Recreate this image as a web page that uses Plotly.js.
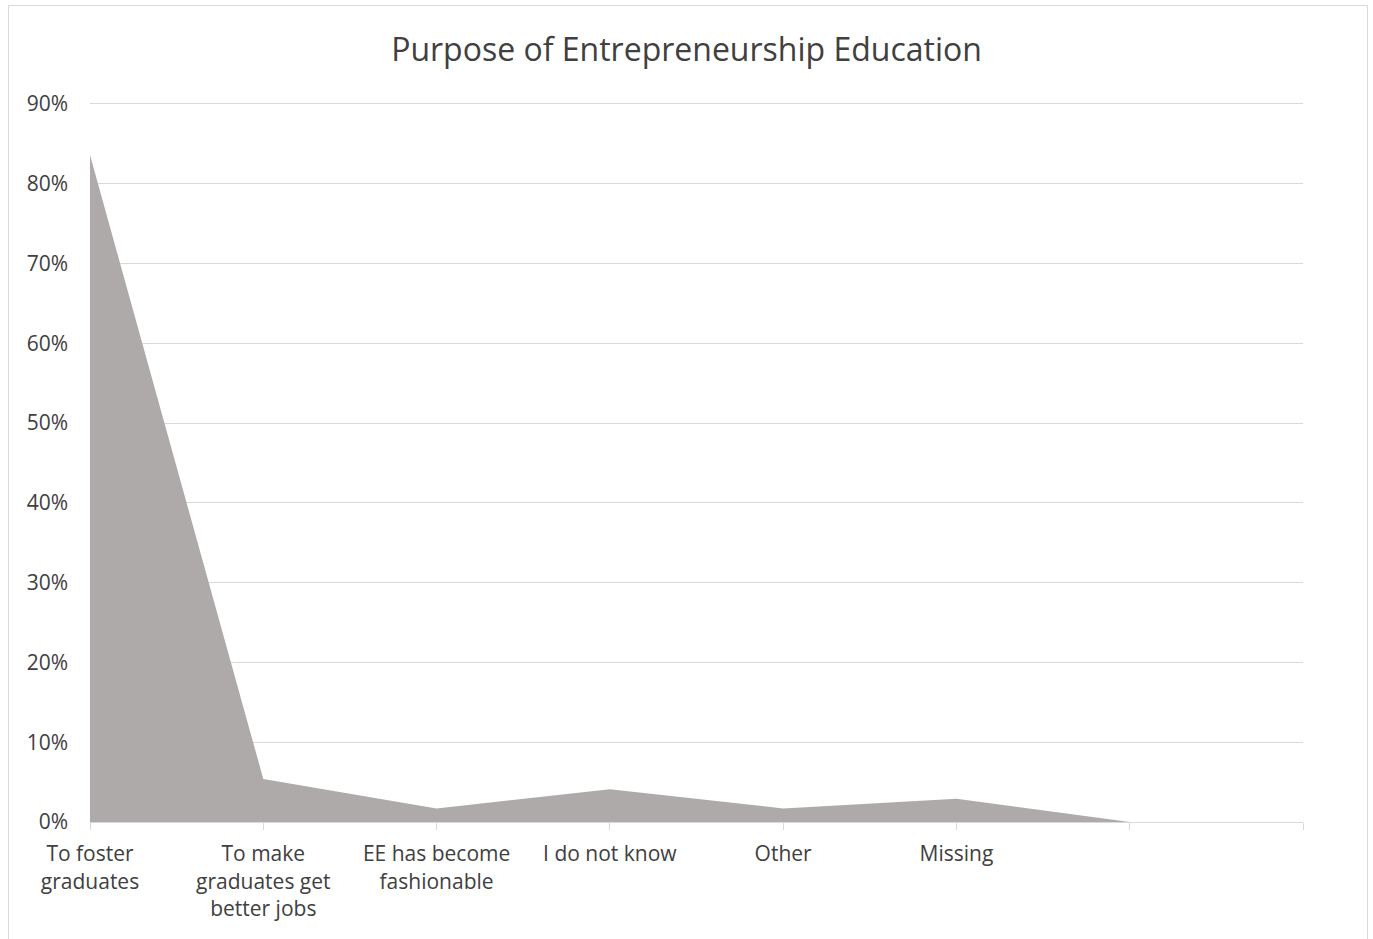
<!DOCTYPE html>
<html>
<head>
<meta charset="utf-8">
<script src="https://cdn.plot.ly/plotly-3.0.1.min.js"></script>
<style>
  html, body { margin: 0; padding: 0; background: #fff; }
  #chart { width: 1373px; height: 939px; }
  #frame { position: absolute; left: 8px; top: 5px; width: 1360px; height: 950px; border: 1px solid #D9D9D9; pointer-events: none; box-sizing: border-box; }
</style>
</head>
<body>
<div id="chart"></div>
<div id="frame"></div>
<script>
const categories = [
  "To foster<br>graduates",
  "To make<br>graduates get<br>better jobs",
  "EE has become<br>fashionable",
  "I do not know",
  "Other",
  "Missing",
  "",
  ""
];
const values = [0.836, 0.054, 0.017, 0.041, 0.017, 0.029, 0, null];
const yTicks = [0, 0.1, 0.2, 0.3, 0.4, 0.5, 0.6, 0.7, 0.8, 0.9];

const positions = categories.map((c, i) => i);

const trace = {
  type: 'scatter',
  mode: 'lines',
  x: positions,
  y: values,
  fill: 'tozeroy',
  fillcolor: '#AEAAAA',
  line: { color: '#AEAAAA', width: 0 },
  hoverinfo: 'skip'
};

const layout = {
  width: 1373,
  height: 939,
  margin: { l: 90, r: 70, t: 100, b: 117 },
  paper_bgcolor: '#ffffff',
  plot_bgcolor: '#ffffff',
  font: { family: '"Open Sans", "Noto Sans", sans-serif', color: '#404040', size: 21 },
  title: {
    text: 'Purpose of Entrepreneurship Education',
    font: { size: 32, color: '#404040', family: '"Open Sans", "Noto Sans", sans-serif' },
    x: 0.5, xanchor: 'center',
    y: 0.947, yanchor: 'middle'
  },
  showlegend: false,
  xaxis: {
    range: [0, categories.length - 1],
    tickmode: 'array',
    tickvals: positions,
    ticktext: categories,
    showgrid: false,
    zeroline: false,
    showline: true,
    linecolor: '#D9D9D9',
    linewidth: 1,
    ticks: 'outside',
    ticklen: 7,
    tickcolor: '#D9D9D9',
    tickwidth: 1,
    tickangle: 0,
    ticklabelstandoff: 6,
    tickfont: { size: 21, color: '#404040' },
    fixedrange: true
  },
  yaxis: {
    range: [0, 0.905],
    tickmode: 'array',
    tickvals: yTicks,
    ticktext: yTicks.map(v => Math.round(v * 100) + '%'),
    showgrid: true,
    gridcolor: '#D9D9D9',
    gridwidth: 1,
    zeroline: false,
    showline: false,
    ticks: '',
    ticklabelstandoff: 21,
    tickfont: { size: 21, color: '#404040' },
    fixedrange: true
  }
};

Plotly.newPlot('chart', [trace], layout, { displayModeBar: false, staticPlot: true });
</script>
</body>
</html>
